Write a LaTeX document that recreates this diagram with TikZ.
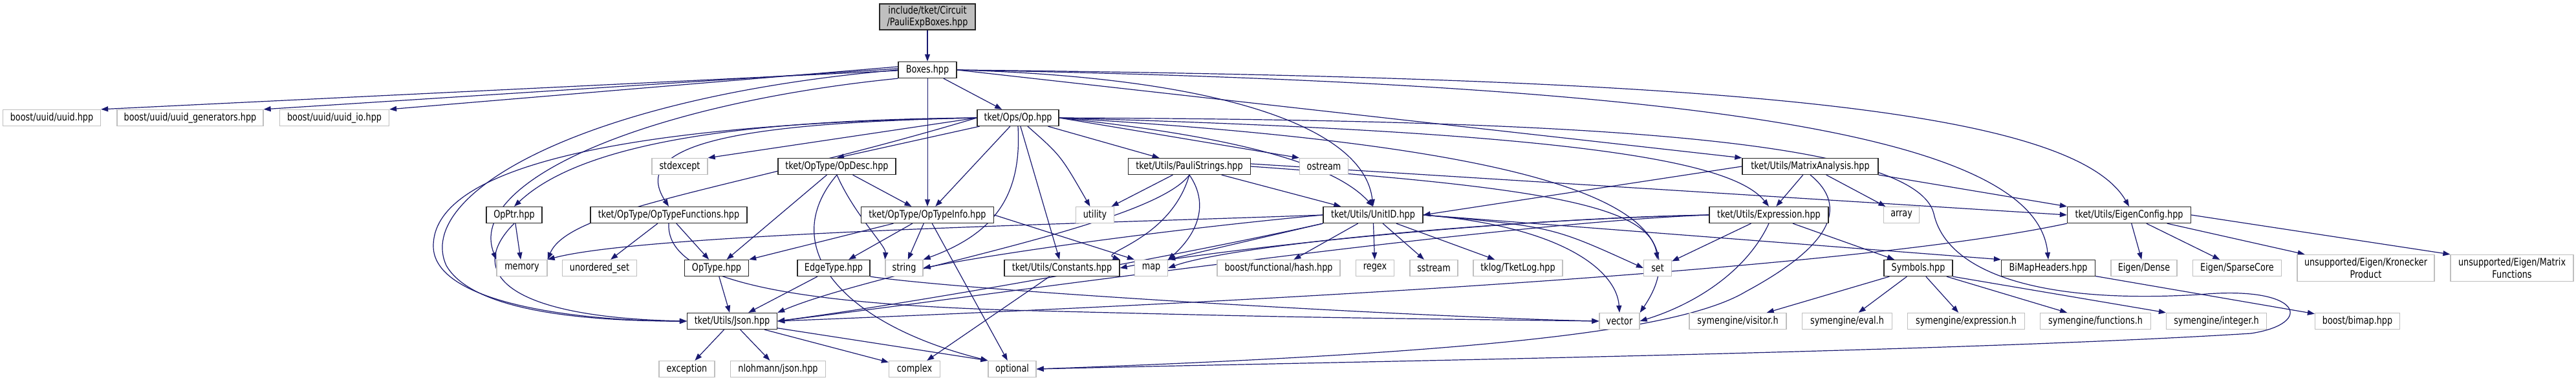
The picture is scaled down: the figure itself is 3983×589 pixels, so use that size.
\documentclass[tikz,border=0pt]{standalone}
\usepackage{fontspec}
\setmainfont{DejaVu Sans}[FakeStretch=0.8]
\usetikzlibrary{arrows.meta,backgrounds}
\definecolor{edgec}{RGB}{25,25,112}
\definecolor{sysgray}{RGB}{191,191,191}
\definecolor{rootfill}{RGB}{191,191,191}
\begin{document}
\begin{tikzpicture}[x=1pt,y=-1pt,
  nd/.style={draw=black!85, line width=1.3pt, fill=white, minimum height=25pt, inner sep=1pt,
    font=\fontsize{16}{18.5}\selectfont},
  sy/.style={nd, draw=sysgray},
  e/.style={draw=edgec, line width=1.2pt, -{Triangle[length=11pt,width=8pt]}}]
\useasboundingbox (0,0) rectangle (3983,589);
% row 0,1
\node[nd, fill=rootfill, minimum width=148pt, minimum height=40pt, align=center] (root) at (1434,26) {include/tket/Circuit\\/PauliExpBoxes.hpp};
\node[nd, minimum width=90pt] (boxes) at (1434,108) {Boxes.hpp};
% row 2
\node[sy, minimum width=151pt] (uuid) at (80,182) {boost/uuid/uuid.hpp};
\node[sy, minimum width=226pt] (uuidgen) at (294,182) {boost/uuid/uuid\_generators.hpp};
\node[sy, minimum width=169pt] (uuidio) at (517,182) {boost/uuid/uuid\_io.hpp};
\node[nd, minimum width=126pt] (op) at (1574,182) {tket/Ops/Op.hpp};
% row 3
\node[sy, minimum width=86pt] (stdexcept) at (1051,257) {stdexcept};
\node[nd, minimum width=182pt] (opdesc) at (1294,257) {tket/OpType/OpDesc.hpp};
\node[nd, minimum width=189pt] (pauli) at (1839,257) {tket/Utils/PauliStrings.hpp};
\node[sy, minimum width=75pt] (ostream) at (2047,257) {ostream};
\node[nd, minimum width=210pt] (matrix) at (2799,257) {tket/Utils/MatrixAnalysis.hpp};
% row 4
\node[nd, minimum width=86pt] (opptr) at (795,332) {OpPtr.hpp};
\node[nd, minimum width=242pt] (optypefn) at (1034,332) {tket/OpType/OpTypeFunctions.hpp};
\node[nd, minimum width=205pt] (optypeinfo) at (1434,332) {tket/OpType/OpTypeInfo.hpp};
\node[sy, minimum width=59pt] (utility) at (1693,332) {utility};
\node[nd, minimum width=154pt] (unitid) at (2123,332) {tket/Utils/UnitID.hpp};
\node[nd, minimum width=184pt] (expr) at (2735,332) {tket/Utils/Expression.hpp};
\node[sy, minimum width=55pt] (array) at (2940,332) {array};
\node[nd, minimum width=191pt] (eigen) at (3292,332) {tket/Utils/EigenConfig.hpp};
% row 5
\node[sy, minimum width=78pt] (memory) at (807,414) {memory};
\node[sy, minimum width=115pt] (unordset) at (927,414) {unordered\_set};
\node[nd, minimum width=99pt] (optype) at (1108,414) {OpType.hpp};
\node[nd, minimum width=112pt] (edgetype) at (1289,414) {EdgeType.hpp};
\node[sy, minimum width=58pt] (string) at (1398,414) {string};
\node[nd, minimum width=178pt] (constants) at (1642,414) {tket/Utils/Constants.hpp};
\node[sy, minimum width=51pt] (map) at (1780,414) {map};
\node[sy, minimum width=190pt] (hash) at (1977,414) {boost/functional/hash.hpp};
\node[sy, minimum width=59pt] (regex) at (2126,414) {regex};
\node[sy, minimum width=74pt] (sstream) at (2217,414) {sstream};
\node[sy, minimum width=138pt] (tklog) at (2347,414) {tklog/TketLog.hpp};
\node[sy, minimum width=43pt] (set) at (2563,414) {set};
\node[nd, minimum width=106pt] (symbols) at (2966,414) {Symbols.hpp};
\node[nd, minimum width=145pt] (bimaph) at (3167,414) {BiMapHeaders.hpp};
\node[sy, minimum width=102pt] (dense) at (3315,414) {Eigen/Dense};
\node[sy, minimum width=137pt] (sparse) at (3459,414) {Eigen/SparseCore};
\node[sy, minimum width=212pt, minimum height=41pt, align=center] (kron) at (3658,414) {unsupported/Eigen/Kronecker\\Product};
\node[sy, minimum width=190pt, minimum height=41pt, align=center] (mfun) at (3884,414) {unsupported/Eigen/Matrix\\Functions};
% row 6
\node[nd, minimum width=139pt] (json) at (1132,496) {tket/Utils/Json.hpp};
\node[sy, minimum width=62pt] (vector) at (2504,496) {vector};
\node[sy, minimum width=150pt] (visitor) at (2687,496) {symengine/visitor.h};
\node[sy, minimum width=139pt] (eval) at (2856,496) {symengine/eval.h};
\node[sy, minimum width=181pt] (symexpr) at (3040,496) {symengine/expression.h};
\node[sy, minimum width=171pt] (functions) at (3240,496) {symengine/functions.h};
\node[sy, minimum width=155pt] (integer) at (3427,496) {symengine/integer.h};
\node[sy, minimum width=131pt] (bimap) at (3645,496) {boost/bimap.hpp};
% row 7
\node[sy, minimum width=86pt] (exception) at (1062,570) {exception};
\node[sy, minimum width=147pt] (nlohmann) at (1203,570) {nlohmann/json.hpp};
\node[sy, minimum width=79pt] (complex) at (1414,570) {complex};
\node[sy, minimum width=74pt] (optional) at (1565,570) {optional};

\begin{pgfonlayer}{background}
% root / Boxes
\draw[e] (root) -- (boxes);
\draw[e] ([yshift=-1pt]boxes.west) -- (uuid.north east);
\draw[e] ([yshift=2pt]boxes.west) -- (uuidgen.north east);
\draw[e] ([yshift=5pt]boxes.west) -- (uuidio.north east);
\draw[e] (boxes) -- (op);
\draw[e, line width=0.8pt] (boxes) -- (optypeinfo);
\draw[e] (boxes.west) .. controls (900,150) and (640,300) .. (690,410) .. controls (730,480) and (900,496) .. (json.west);
\draw[e] (boxes.south west) .. controls (1000,160) and (720,280) .. (memory.north west);
\draw[e] (boxes.east) .. controls (1900,120) and (2110,200) .. (unitid.north);
\draw[e] (boxes.east) -- (matrix.north west);
\draw[e] (boxes.east) .. controls (2600,120) and (3200,160) .. (eigen.north);
\draw[e] (boxes.east) .. controls (2700,130) and (3150,220) .. (bimaph.north);
% Op
\draw[e] (op.west) -- (stdexcept.north east);
\draw[e] (op) -- (opdesc.north);
\draw[e] (op) -- (optypeinfo);
\draw[e] (op.west) .. controls (1150,185) and (900,220) .. (opptr.north);
\draw[e] (op.west) .. controls (1150,190) and (970,220) .. (optypefn.north);
\draw[e] (op.west) .. controls (1150,290) and (880,320) .. (memory.north east);
\draw[e] (op.west) .. controls (1000,190) and (670,250) .. (670,380) .. controls (670,470) and (900,496) .. (json.west);
\draw[e] (op.south) .. controls (1580,300) and (1540,360) .. (string.north east);
\draw[e] (op) -- (constants);
\draw[e] (op) .. controls (1640,240) .. (utility);
\draw[e] (op) -- (pauli);
\draw[e] (op.east) -- (ostream.north west);
\draw[e] (op.east) .. controls (1900,210) and (2060,250) .. (unitid.north);
\draw[e] (op.east) .. controls (2450,205) and (2680,250) .. (expr.north);
\draw[e] (op.east) .. controls (2450,230) and (2640,330) .. (vector.north east);
\draw[e] (op.east) .. controls (2400,185) and (2960,210) .. (2990,330) .. controls (3010,420) and (3150,470) .. (3400,455) .. controls (3560,440) and (3580,500) .. (3480,515) .. controls (3000,545) and (2000,560) .. (optional.east);
% OpDesc
\draw[e] (opdesc) -- (optype);
\draw[e] (opdesc) -- (optypeinfo);
\draw[e] (opdesc.south) .. controls (1320,330) and (1370,380) .. (string.north west);
\draw[e] (opdesc.south) .. controls (1200,380) and (1300,500) .. (optional.north west);
% OpPtr
\draw[e] (opptr) -- (memory);
\draw[e] (opptr.south) .. controls (720,420) and (780,490) .. (json.west);
% OpTypeFunctions
\draw[e] (optypefn) -- (unordset);
\draw[e] (optypefn) -- (optype);
\draw[e] (optypefn.south) .. controls (1030,430) and (1200,470) .. (1600,480) .. controls (2000,490) .. (vector.west);
% OpTypeInfo
\draw[e] (optypeinfo) -- (optype.north east);
\draw[e] (optypeinfo) -- (edgetype);
\draw[e] (optypeinfo) -- (string);
\draw[e] (optypeinfo) -- (optional);
\draw[e] (optypeinfo.east) -- (map.north west);
% OpType / EdgeType
\draw[e] (optype) -- (json);
\draw[e] (edgetype) -- (json);
\draw[e] (edgetype.south east) .. controls (1500,450) and (2200,490) .. (vector.west);
% PauliStrings
\draw[e] (pauli) -- (utility);
\draw[e] (pauli.south) .. controls (1780,350) and (1350,420) .. (json.north east);
\draw[e] (pauli.south) .. controls (1810,370) and (1700,390) .. (constants.north east);
\draw[e] (pauli.south) .. controls (1880,330) and (1830,380) .. (map.north east);
\draw[e] (pauli) -- (unitid);
\draw[e] ([yshift=4pt]pauli.east) -- (eigen.west);
\draw[e] (pauli.east) .. controls (2400,290) and (2550,320) .. (set.north);
% UnitID
\draw[e] (unitid) -- (hash);
\draw[e] (unitid) -- (regex);
\draw[e] (unitid) -- (sstream);
\draw[e] (unitid) -- (tklog);
\draw[e] (unitid.west) .. controls (1700,345) and (1000,360) .. (memory.north east);
\draw[e] (unitid.south west) -- (map.north east);
\draw[e] (unitid.west) .. controls (1800,355) and (1550,390) .. (string.east);
\draw[e] (unitid.south west) .. controls (1800,400) and (1400,470) .. (json.east);
\draw[e] (unitid.east) .. controls (2400,350) .. (set.west);
\draw[e] (unitid.east) .. controls (2420,350) and (2500,420) .. (vector.north);
\draw[e] (unitid.east) -- (bimaph.north west);
% Expression
\draw[e] (expr) -- (set);
\draw[e] (expr) -- (symbols);
\draw[e] (expr.south) .. controls (2700,420) and (2620,470) .. (vector.east);
\draw[e] (expr.west) .. controls (2300,345) and (1500,460) .. (json.east);
\draw[e] (expr.west) .. controls (2300,340) and (1900,380) .. (map.east);
\draw[e] (expr.west) .. controls (2300,338) and (1850,390) .. (constants.east);
% MatrixAnalysis
\draw[e] (matrix.west) -- (unitid.east);
\draw[e] (matrix) -- (expr);
\draw[e] (matrix) -- (array);
\draw[e] (matrix.south east) -- (eigen.north west);
\draw[e] (matrix.south) .. controls (2860,320) and (2830,380) .. (2700,450) .. controls (2600,510) and (2300,545) .. (optional.east);
% EigenConfig
\draw[e] (eigen) -- (dense);
\draw[e] (eigen) -- (sparse);
\draw[e] (eigen) -- (kron);
\draw[e] (eigen.east) -- (mfun.north west);
\draw[e] (eigen.south west) .. controls (2800,430) and (1600,480) .. (json.east);
% Symbols
\draw[e] (symbols) -- (visitor);
\draw[e] (symbols) -- (eval);
\draw[e] (symbols) -- (symexpr);
\draw[e] (symbols) -- (functions);
\draw[e] (symbols.south east) -- (integer.north west);
% BiMapHeaders
\draw[e] (bimaph) -- (bimap);
% Json
\draw[e] (json) -- (exception);
\draw[e] (json) -- (nlohmann);
\draw[e] (json) -- (complex);
\draw[e] (json) -- (optional.north west);
% Constants
\draw[e] (constants) -- (complex);
\end{pgfonlayer}
\end{tikzpicture}
\end{document}
